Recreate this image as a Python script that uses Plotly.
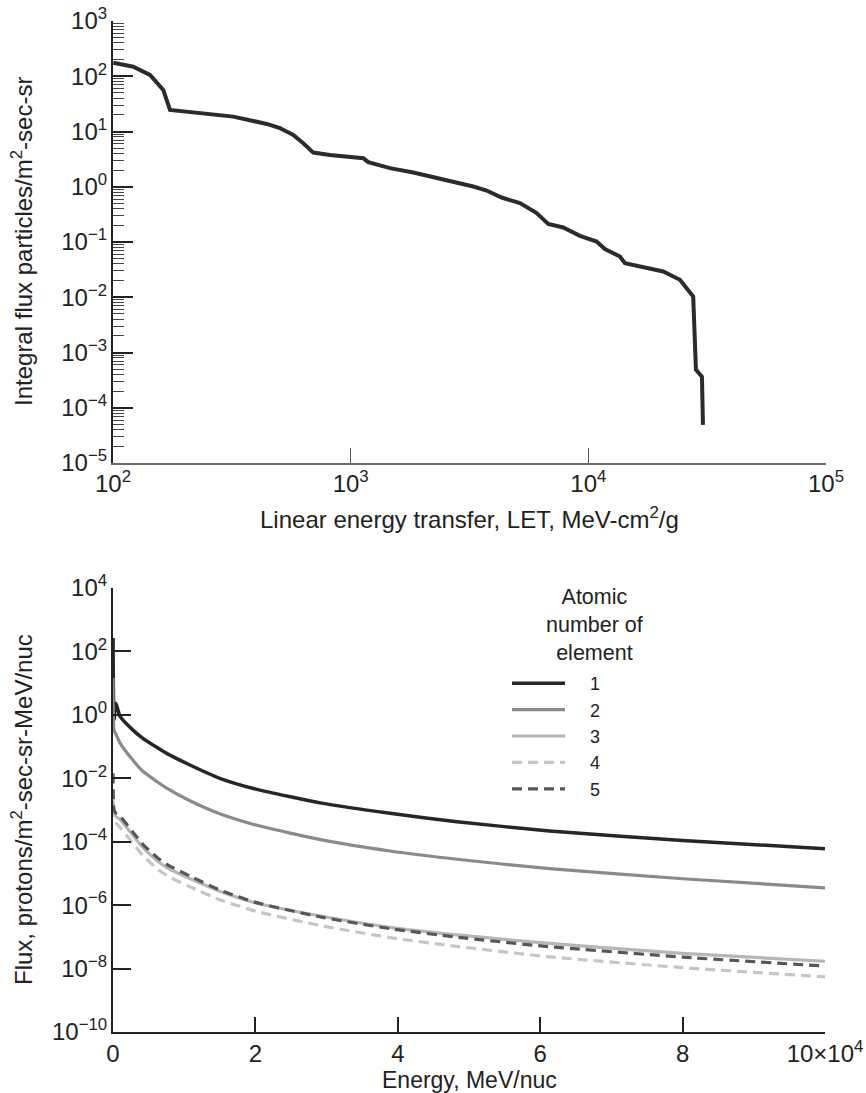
import plotly.graph_objects as go

# ---------------- Top panel: integral LET spectrum ----------------
let_mev_cm2_g = [100.3, 121.7, 143.1, 162.8, 173.7, 232.3, 320.7, 443.2, 504, 555.4,
                 573.5, 631.8, 696.2, 818.3, 1130, 1186, 1463, 1834, 2534, 3280,
                 3734, 4318, 5156, 6061, 6781, 7843, 9218, 10836, 11744, 13584,
                 14256, 17592, 20660, 24290, 27620, 28360, 30060, 30360]
integral_flux = [176, 149, 105.6, 56.5, 24.6, 21.4, 18.6, 13.7, 11.47, 9.32,
                 8.68, 6.14, 4.15, 3.77, 3.29, 2.79, 2.17, 1.81, 1.33, 1.01,
                 0.854, 0.638, 0.505, 0.333, 0.213, 0.183, 0.1295, 0.102, 0.0744, 0.0547,
                 0.0415, 0.0337, 0.0293, 0.0207, 0.01034, 4.9e-4, 3.65e-4, 4.9e-5]

# ---------------- Bottom panel: differential flux by element ----------------
energy_mev_nuc = [10, 150, 400, 1000, 2800, 4200, 6200, 7600, 10800, 15000,
                  20200, 29500, 38900, 48300, 61300, 80000, 100000]
flux_z1 = [263, 0.71, 2.34, 0.89, 0.33, 0.182, 0.093, 0.060, 0.0263, 0.0100,
           0.00447, 0.00162, 7.9e-4, 4.27e-4, 2.19e-4, 1.10e-4, 6.0e-5]
flux_z2 = [14.5, 0.32, 0.25, 0.129, 0.037, 0.0166, 0.0078, 0.0048, 0.00195, 7.6e-4,
           3.3e-4, 1.12e-4, 5.1e-5, 2.8e-5, 1.41e-5, 6.8e-6, 3.5e-6]
flux_z3 = [2.0e-3, 8.9e-4, 6.3e-4, 5.0e-4, 1.58e-4, 6.6e-5, 2.5e-5, 1.51e-5, 6.9e-6, 2.75e-6,
           1.15e-6, 4.4e-7, 2.0e-7, 1.15e-7, 6.2e-8, 3.0e-8, 1.7e-8]
flux_z4 = [1.26e-3, 5.0e-4, 4.0e-4, 2.8e-4, 8.9e-5, 3.7e-5, 1.41e-5, 8.5e-6, 3.8e-6, 1.48e-6,
           6.3e-7, 2.2e-7, 9.5e-8, 5.0e-8, 2.35e-8, 1.07e-8, 5.5e-9]
flux_z5 = [0.0145, 1.0e-3, 7.9e-4, 6.3e-4, 2.0e-4, 8.3e-5, 3.2e-5, 1.9e-5, 8.3e-6, 3.0e-6,
           1.2e-6, 4.1e-7, 1.82e-7, 9.8e-8, 4.9e-8, 2.3e-8, 1.2e-8]
element_names = ["1", "2", "3", "4", "5"]

# ---------------- Tick labels ----------------
top_x_exps = [2, 3, 4, 5]
top_y_exps = [-5, -4, -3, -2, -1, 0, 1, 2, 3]
bot_y_exps = [-10, -8, -6, -4, -2, 0, 2, 4]
bot_x_ticks = [0, 20000, 40000, 60000, 80000, 100000]
bot_x_labels = ["0", "2", "4", "6", "8", "10\u00d710<sup>4</sup>"]


def pow_label(k):
    return "10<sup>" + ("\u2212" if k < 0 else "") + str(abs(k)) + "</sup>"


FONT = "Liberation Sans, Arial, Helvetica, sans-serif"
INK = "#222222"
TICK_SIZE = 24
W, H = 866, 1093
PAD = "\u00a0\u00a0\u00a0\u00a0"

fig = go.Figure()

fig.add_trace(go.Scatter(
    x=let_mev_cm2_g, y=integral_flux, mode="lines",
    line=dict(color="#2b2b2b", width=4),
    xaxis="x", yaxis="y", showlegend=False, hoverinfo="skip"))

series = [flux_z1, flux_z2, flux_z3, flux_z4, flux_z5]
styles = [
    dict(color="#262626", width=3.5),
    dict(color="#8a8a8a", width=3.2),
    dict(color="#b6b6b6", width=3.2),
    dict(color="#c6c6c6", width=3.2, dash="10px,6px"),
    dict(color="#575757", width=3.2, dash="10px,6px"),
]
for name, ys, st in zip(element_names, series, styles):
    fig.add_trace(go.Scatter(
        x=energy_mev_nuc, y=ys, mode="lines", name=PAD + name,
        line=dict(shape="spline", smoothing=0.6, **st),
        xaxis="x2", yaxis="y2", hoverinfo="skip"))

minor_top = [m * 10.0 ** k for k in range(-5, 3) for m in range(2, 10)]


def ann(text, x, y, size, angle=0):
    return dict(text=text, x=x / W, y=1 - y / H, xref="paper", yref="paper",
                xanchor="center", yanchor="middle", align="center",
                textangle=angle, showarrow=False,
                font=dict(size=size, color=INK, family=FONT))


fig.update_layout(
    width=W, height=H,
    margin=dict(l=0, r=0, t=0, b=0),
    paper_bgcolor="white", plot_bgcolor="white",
    font=dict(family=FONT, size=20, color=INK),
    xaxis=dict(
        domain=[113 / W, 826 / W], anchor="y", type="log", range=[2, 5],
        automargin=False,
        tickmode="array", tickvals=[10.0 ** k for k in top_x_exps],
        ticktext=[pow_label(k) for k in top_x_exps],
        ticks="inside", ticklen=15, tickwidth=1.3, tickcolor="#555",
        showline=True, linecolor="#6a6a6a", linewidth=2,
        showgrid=False, zeroline=False, ticklabelstandoff=-2,
        tickfont=dict(size=TICK_SIZE, color=INK),
    ),
    yaxis=dict(
        domain=[1 - 463 / H, 1 - 21 / H], anchor="x", type="log", range=[-5, 3],
        automargin=False,
        tickmode="array", tickvals=[10.0 ** k for k in top_y_exps],
        ticktext=[pow_label(k) for k in top_y_exps],
        ticks="inside", ticklen=20, tickwidth=1.5, tickcolor=INK,
        minor=dict(tickmode="array", tickvals=minor_top, ticks="inside",
                   ticklen=11, tickwidth=1.2, tickcolor="#444", showgrid=False),
        showline=True, linecolor=INK, linewidth=2.2,
        showgrid=False, zeroline=False, ticklabelstandoff=-1,
        tickfont=dict(size=TICK_SIZE, color=INK),
    ),
    xaxis2=dict(
        domain=[113 / W, 825 / W], anchor="y2", type="linear", range=[0, 100000],
        automargin=False,
        tickmode="array", tickvals=bot_x_ticks, ticktext=bot_x_labels,
        ticks="inside", ticklen=15, tickwidth=1.5, tickcolor=INK,
        showline=True, linecolor=INK, linewidth=2.2,
        showgrid=False, zeroline=False, ticklabelstandoff=-1,
        tickfont=dict(size=TICK_SIZE, color=INK),
    ),
    yaxis2=dict(
        domain=[1 - 1032 / H, 1 - 588 / H], anchor="x2", type="log", range=[-10, 4],
        automargin=False,
        tickmode="array", tickvals=[10.0 ** k for k in bot_y_exps],
        ticktext=[pow_label(k) for k in bot_y_exps],
        ticks="inside", ticklen=18, tickwidth=1.5, tickcolor=INK,
        showline=True, linecolor=INK, linewidth=2.2,
        showgrid=False, zeroline=False, ticklabelstandoff=-1,
        tickfont=dict(size=TICK_SIZE, color=INK),
    ),
    legend=dict(
        x=507 / W, xanchor="left", y=1 - 665 / H, yanchor="top",
        font=dict(size=18, color=INK), itemwidth=53,
        bgcolor="rgba(0,0,0,0)", borderwidth=0, tracegroupgap=0,
        traceorder="normal",
    ),
    annotations=[
        ann("Linear energy transfer, LET, MeV-cm<sup>2</sup>/g", 469.5, 518, 24),
        ann("Integral flux particles/m<sup>2</sup>-sec-sr", 22, 242, 24, -90),
        ann("Energy, MeV/nuc", 469, 1080, 23),
        ann("Flux, protons/m<sup>2</sup>-sec-sr-MeV/nuc", 22, 810, 24, -90),
        ann("Atomic<br>number of<br>element", 594, 625, 21.5),
    ],
)

fig.write_html(
    "out.html",
    config={"displayModeBar": False},
    post_script="document.body.style.margin='0';document.body.style.overflow='hidden';",
)
